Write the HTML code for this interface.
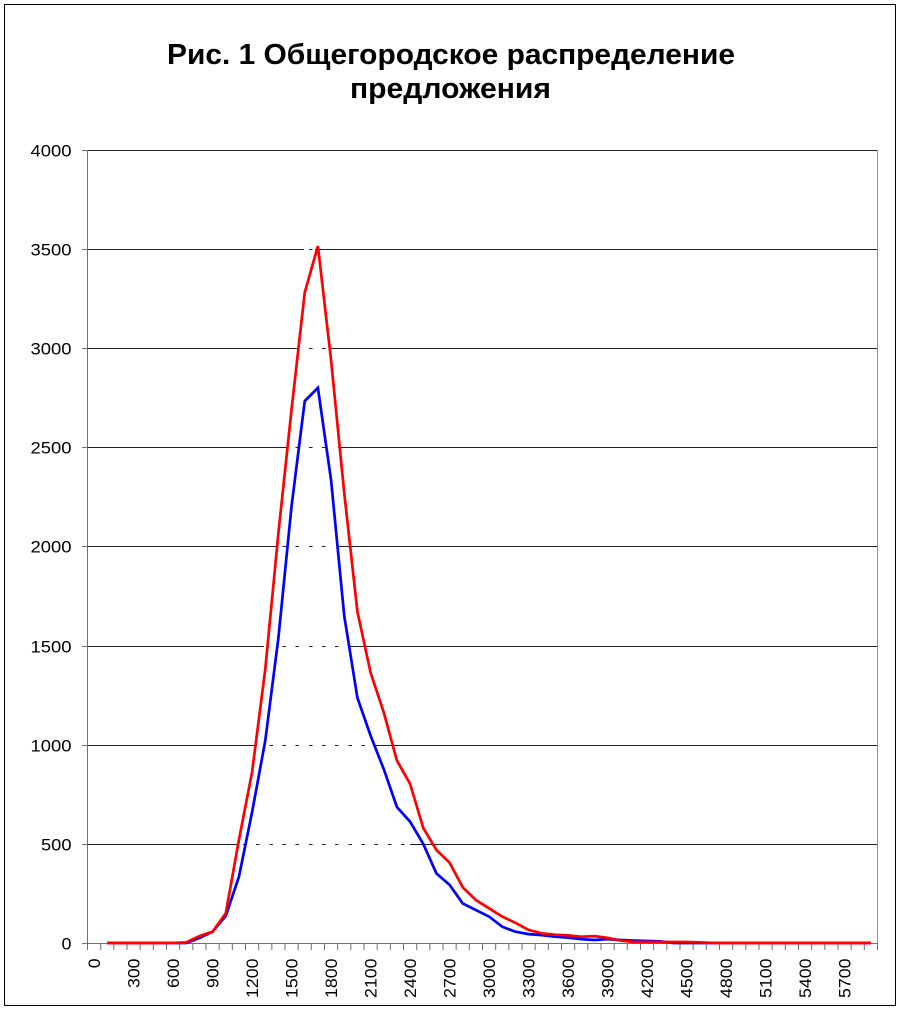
<!DOCTYPE html>
<html>
<head>
<meta charset="utf-8">
<style>
  html,body{margin:0;padding:0;background:#fff;}
  svg{display:block;}
  text{font-family:"Liberation Sans", Arial, sans-serif;fill:#000;}
</style>
</head>
<body>
<svg width="900" height="1010" viewBox="0 0 900 1010" xmlns="http://www.w3.org/2000/svg">
  <rect x="0" y="0" width="900" height="1010" fill="#fff"/>
  <!-- outer chart border -->
  <rect x="4.5" y="4.5" width="891" height="1001" fill="none" stroke="#000" stroke-width="1"/>

  <!-- title -->
  <text x="451" y="64" font-size="29" font-weight="bold" text-anchor="middle" textLength="568" lengthAdjust="spacingAndGlyphs">Рис. 1 Общегородское распределение</text>
  <text x="450.5" y="98" font-size="29" font-weight="bold" text-anchor="middle" textLength="201" lengthAdjust="spacingAndGlyphs">предложения</text>

  <!-- gridlines -->
  <g stroke="#222" stroke-width="1" shape-rendering="crispEdges">
    <line x1="87.5" y1="150.5" x2="877.5" y2="150.5"/>
    <!-- 3500 -->
    <line x1="87.5" y1="249.5" x2="304" y2="249.5"/>
    <line x1="315" y1="249.5" x2="877.5" y2="249.5"/>
    <line x1="308.83" y1="249.5" x2="312.33" y2="249.5"/>
    <!-- 3000 -->
    <line x1="87.5" y1="348.5" x2="299" y2="348.5"/>
    <line x1="329" y1="348.5" x2="877.5" y2="348.5"/>
    <line x1="308.83" y1="348.5" x2="325.5" y2="348.5" stroke-dasharray="3.5 9.6667"/>
    <!-- 2500 -->
    <line x1="87.5" y1="447.5" x2="287" y2="447.5"/>
    <line x1="338" y1="447.5" x2="877.5" y2="447.5"/>
    <line x1="295.67" y1="447.5" x2="325.5" y2="447.5" stroke-dasharray="3.5 9.6667"/>
    <!-- 2000 -->
    <line x1="87.5" y1="546.5" x2="277" y2="546.5"/>
    <line x1="337" y1="546.5" x2="877.5" y2="546.5"/>
    <line x1="282.5" y1="546.5" x2="325.5" y2="546.5" stroke-dasharray="3.5 9.6667"/>
    <!-- 1500 -->
    <line x1="87.5" y1="646.5" x2="264" y2="646.5"/>
    <line x1="348" y1="646.5" x2="877.5" y2="646.5"/>
    <line x1="282.5" y1="646.5" x2="338.67" y2="646.5" stroke-dasharray="3.5 9.6667"/>
    <!-- 1000 -->
    <line x1="87.5" y1="745.5" x2="257" y2="745.5"/>
    <line x1="373" y1="745.5" x2="877.5" y2="745.5"/>
    <line x1="269.33" y1="745.5" x2="365" y2="745.5" stroke-dasharray="3.5 9.6667"/>
    <!-- 500 -->
    <line x1="87.5" y1="844.5" x2="237" y2="844.5"/>
    <line x1="410" y1="844.5" x2="877.5" y2="844.5"/>
    <line x1="243" y1="844.5" x2="404.5" y2="844.5" stroke-dasharray="3.5 9.6667"/>
  </g>

  <!-- plot area right border -->
  <line x1="877.5" y1="150" x2="877.5" y2="943" stroke="#909090" stroke-width="1" shape-rendering="crispEdges"/>

  <!-- axes -->
  <g stroke="#707070" stroke-width="1" shape-rendering="crispEdges">
    <line x1="87.5" y1="150" x2="87.5" y2="944"/>
    <line x1="87" y1="943.5" x2="878" y2="943.5"/>
    <line x1="82" y1="150.5" x2="88" y2="150.5"/>
    <line x1="82" y1="249.5" x2="88" y2="249.5"/>
    <line x1="82" y1="348.5" x2="88" y2="348.5"/>
    <line x1="82" y1="447.5" x2="88" y2="447.5"/>
    <line x1="82" y1="546.5" x2="88" y2="546.5"/>
    <line x1="82" y1="646.5" x2="88" y2="646.5"/>
    <line x1="82" y1="745.5" x2="88" y2="745.5"/>
    <line x1="82" y1="844.5" x2="88" y2="844.5"/>
    <line x1="82" y1="943.5" x2="88" y2="943.5"/>
  </g>
  <!-- x ticks -->
  <path stroke="#707070" stroke-width="1" fill="none" d="
M87.5 943V950M100.67 943V950M113.83 943V950M127 943V950M140.17 943V950M153.33 943V950M166.5 943V950M179.67 943V950M192.83 943V950M206 943V950
M219.17 943V950M232.33 943V950M245.5 943V950M258.67 943V950M271.83 943V950M285 943V950M298.17 943V950M311.33 943V950M324.5 943V950M337.67 943V950
M350.83 943V950M364 943V950M377.17 943V950M390.33 943V950M403.5 943V950M416.67 943V950M429.83 943V950M443 943V950M456.17 943V950M469.33 943V950
M482.5 943V950M495.67 943V950M508.83 943V950M522 943V950M535.17 943V950M548.33 943V950M561.5 943V950M574.67 943V950M587.83 943V950M601 943V950
M614.17 943V950M627.33 943V950M640.5 943V950M653.67 943V950M666.83 943V950M680 943V950M693.17 943V950M706.33 943V950M719.5 943V950M732.67 943V950
M745.83 943V950M759 943V950M772.17 943V950M785.33 943V950M798.5 943V950M811.67 943V950M824.83 943V950M838 943V950M851.17 943V950M864.33 943V950M877.5 943V950"/>

  <!-- y labels -->
  <g font-size="17" text-anchor="end">
    <text x="71.5" y="156.5" textLength="41" lengthAdjust="spacingAndGlyphs">4000</text>
    <text x="71.5" y="255.5" textLength="41" lengthAdjust="spacingAndGlyphs">3500</text>
    <text x="71.5" y="354.5" textLength="41" lengthAdjust="spacingAndGlyphs">3000</text>
    <text x="71.5" y="453.5" textLength="41" lengthAdjust="spacingAndGlyphs">2500</text>
    <text x="71.5" y="552.5" textLength="41" lengthAdjust="spacingAndGlyphs">2000</text>
    <text x="71.5" y="652.5" textLength="41" lengthAdjust="spacingAndGlyphs">1500</text>
    <text x="71.5" y="751.5" textLength="41" lengthAdjust="spacingAndGlyphs">1000</text>
    <text x="71.5" y="850.5" textLength="30.5" lengthAdjust="spacingAndGlyphs">500</text>
    <text x="71.5" y="949.5" textLength="10" lengthAdjust="spacingAndGlyphs">0</text>
  </g>

  <!-- x labels (rotated) -->
  <g font-size="17" text-anchor="end">
    <text transform="translate(100,958.5) rotate(-90)" textLength="9.8" lengthAdjust="spacingAndGlyphs">0</text>
    <text transform="translate(139.5,958.5) rotate(-90)" textLength="29.5" lengthAdjust="spacingAndGlyphs">300</text>
    <text transform="translate(179,958.5) rotate(-90)" textLength="29.5" lengthAdjust="spacingAndGlyphs">600</text>
    <text transform="translate(218.5,958.5) rotate(-90)" textLength="29.5" lengthAdjust="spacingAndGlyphs">900</text>
    <text transform="translate(258,958.5) rotate(-90)" textLength="39.5" lengthAdjust="spacingAndGlyphs">1200</text>
    <text transform="translate(297.5,958.5) rotate(-90)" textLength="39.5" lengthAdjust="spacingAndGlyphs">1500</text>
    <text transform="translate(337,958.5) rotate(-90)" textLength="39.5" lengthAdjust="spacingAndGlyphs">1800</text>
    <text transform="translate(376.5,958.5) rotate(-90)" textLength="39.5" lengthAdjust="spacingAndGlyphs">2100</text>
    <text transform="translate(416,958.5) rotate(-90)" textLength="39.5" lengthAdjust="spacingAndGlyphs">2400</text>
    <text transform="translate(455.5,958.5) rotate(-90)" textLength="39.5" lengthAdjust="spacingAndGlyphs">2700</text>
    <text transform="translate(495,958.5) rotate(-90)" textLength="39.5" lengthAdjust="spacingAndGlyphs">3000</text>
    <text transform="translate(534.5,958.5) rotate(-90)" textLength="39.5" lengthAdjust="spacingAndGlyphs">3300</text>
    <text transform="translate(574,958.5) rotate(-90)" textLength="39.5" lengthAdjust="spacingAndGlyphs">3600</text>
    <text transform="translate(613.5,958.5) rotate(-90)" textLength="39.5" lengthAdjust="spacingAndGlyphs">3900</text>
    <text transform="translate(653,958.5) rotate(-90)" textLength="39.5" lengthAdjust="spacingAndGlyphs">4200</text>
    <text transform="translate(692.5,958.5) rotate(-90)" textLength="39.5" lengthAdjust="spacingAndGlyphs">4500</text>
    <text transform="translate(732,958.5) rotate(-90)" textLength="39.5" lengthAdjust="spacingAndGlyphs">4800</text>
    <text transform="translate(771.5,958.5) rotate(-90)" textLength="39.5" lengthAdjust="spacingAndGlyphs">5100</text>
    <text transform="translate(811,958.5) rotate(-90)" textLength="39.5" lengthAdjust="spacingAndGlyphs">5400</text>
    <text transform="translate(850.5,958.5) rotate(-90)" textLength="39.5" lengthAdjust="spacingAndGlyphs">5700</text>
  </g>

  <!-- blue series -->
  <polyline fill="none" stroke="#0000FF" stroke-width="2.7" stroke-linejoin="miter" stroke-miterlimit="3" points="
107.25,943 120.42,943 133.58,943 146.75,943 159.92,943 173.08,943 186.25,943 199.42,938.0 212.58,931.7 225.75,916.0
238.92,876.8 252.08,812.2 265.25,740.8 278.42,637.7 291.58,505.9 304.75,401.0 317.92,387.9 331.08,480.1 344.25,615.9 357.42,697.8
370.58,735.6 383.75,769.1 396.92,807.0 410.08,821.7 423.25,843.9 436.42,873.4 449.58,884.9 462.75,903.4 475.92,910.1 489.08,916.6
502.25,926.7 515.42,931.7 528.58,934.1 541.75,935.1 554.92,936.7 568.08,937.6 581.25,939.2 594.42,940.0 607.58,939.2 620.75,940.0
633.92,940.6 647.08,941.0 660.25,941.4 673.42,943 686.58,943 699.75,943 712.92,943 726.08,943 739.25,943 752.42,943
765.58,943 778.75,943 791.92,943 805.08,943 818.25,943 831.42,943 844.58,943 857.75,943 870.92,943"/>

  <!-- red series -->
  <polyline fill="none" stroke="#FF0000" stroke-width="2.7" stroke-linejoin="miter" stroke-miterlimit="3" points="
107.25,943 120.42,943 133.58,943 146.75,943 159.92,943 173.08,943 186.25,942.4 199.42,936.1 212.58,931.7 225.75,913.3
238.92,839.9 252.08,772.1 265.25,669.4 278.42,533.0 291.58,409.3 304.75,292.5 317.92,246.0 331.08,360.1 344.25,493.0 357.42,611.7
370.58,672.6 383.75,712.4 396.92,760.6 410.08,783.8 423.25,828.0 436.42,850.0 449.58,862.7 462.75,887.3 475.92,900.0 489.08,908.3
502.25,916.6 515.42,922.8 528.58,929.9 541.75,933.3 554.92,934.7 568.08,935.3 581.25,936.7 594.42,936.1 607.58,937.8 620.75,940.6
633.92,942.0 647.08,942.0 660.25,942.0 673.42,942.0 686.58,942.0 699.75,942.4 712.92,943 726.08,943 739.25,943 752.42,943
765.58,943 778.75,943 791.92,943 805.08,943 818.25,943 831.42,943 844.58,943 857.75,943 870.92,943"/>
</svg>
</body>
</html>
